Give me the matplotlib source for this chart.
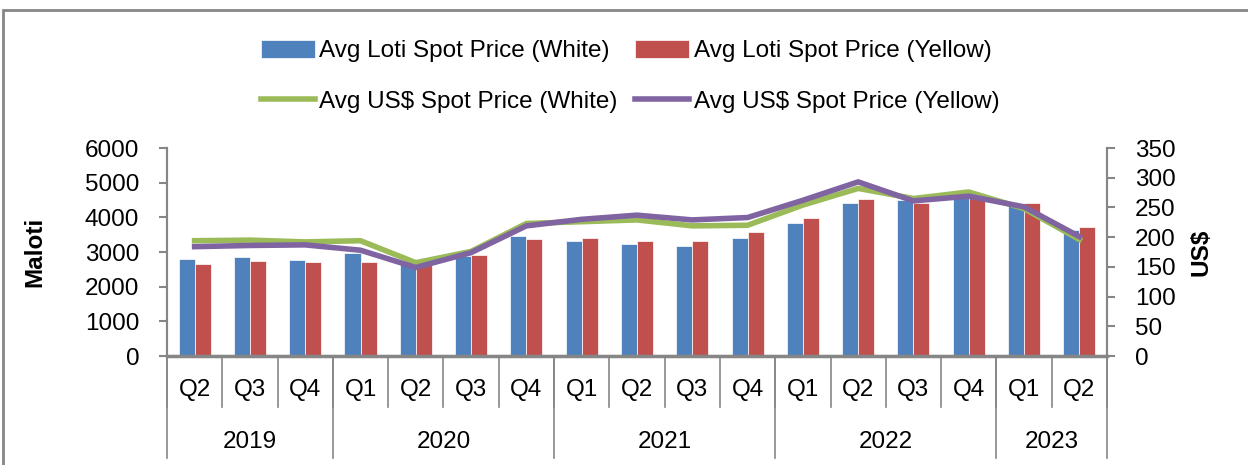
import matplotlib.pyplot as plt
from matplotlib.patches import Rectangle
import numpy as np

plt.rcParams['font.family'] = ['Liberation Sans', 'DejaVu Sans']

BLUE = '#4F81BD'
RED = '#C0504D'
GREEN = '#9BBB59'
PURPLE = '#8064A2'
AXIS_GREY = '#868686'
FS = 17.5

quarters = ['Q2', 'Q3', 'Q4',
            'Q1', 'Q2', 'Q3', 'Q4',
            'Q1', 'Q2', 'Q3', 'Q4',
            'Q1', 'Q2', 'Q3', 'Q4',
            'Q1', 'Q2']
years = ['2019', '2020', '2021', '2022', '2023']
quarters_per_year = [3, 4, 4, 4, 2]

loti_white = [2810, 2850, 2770, 2960, 2750, 2880, 3470,
              3330, 3220, 3170, 3390, 3850, 4400, 4500, 4550, 4360, 3630]
loti_yellow = [2660, 2730, 2700, 2700, 2650, 2920, 3370,
               3390, 3330, 3330, 3590, 3990, 4540, 4400, 4550, 4400, 3730]
usd_white = [194, 195, 192, 194, 157, 176, 223,
             226, 229, 219, 220, 254, 282, 265, 276, 248, 196]
usd_yellow = [184, 186, 187, 178, 149, 174, 219,
              230, 237, 229, 233, 262, 293, 261, 269, 251, 201]

fig = plt.figure(figsize=(12.48, 4.65), dpi=100)
ax = fig.add_axes([0.1338, 0.2344, 0.887 - 0.1338, 0.6817 - 0.2344])
ax2 = ax.twinx()

x = np.arange(len(quarters))
w = 0.29

b1 = ax.bar(x - w / 2, loti_white, w, color=BLUE, edgecolor='white', linewidth=0.5,
            label='Avg Loti Spot Price (White)')
b2 = ax.bar(x + w / 2, loti_yellow, w, color=RED, edgecolor='white', linewidth=0.5,
            label='Avg Loti Spot Price (Yellow)')
l1, = ax2.plot(x, usd_white, color=GREEN, linewidth=4, solid_joinstyle='round',
               label='Avg US$ Spot Price (White)')
l2, = ax2.plot(x, usd_yellow, color=PURPLE, linewidth=4, solid_joinstyle='round',
               label='Avg US$ Spot Price (Yellow)')

ax.set_xlim(-0.5, len(quarters) - 0.5)
ax.set_ylim(0, 6000)
ax2.set_ylim(0, 350)
ax.set_yticks(range(0, 6001, 1000))
ax2.set_yticks(range(0, 351, 50))

for a in (ax, ax2):
    a.spines['top'].set_visible(False)
    for s in ('left', 'right', 'bottom'):
        a.spines[s].set_color(AXIS_GREY)
        a.spines[s].set_linewidth(1.5)
    a.tick_params(axis='y', colors=AXIS_GREY, labelcolor='black', labelsize=FS,
                  length=6, width=1.5, direction='out', pad=14)
ax.spines['bottom'].set_linewidth(2.5)

ax.set_xticks([])
ax.set_ylabel('Maloti', fontsize=FS, fontweight='bold')
ax2.set_ylabel('US$', fontsize=FS, fontweight='bold')
ax.yaxis.set_label_coords(-0.1288, 0.5)
ax2.yaxis.set_label_coords(1.088, 0.5)

# two-level category axis
trans = ax.get_xaxis_transform()
for i, q in enumerate(quarters):
    ax.text(i, -0.163, q, transform=trans, ha='center', va='center', fontsize=FS)
for i in range(len(quarters) + 1):
    ax.plot([i - 0.5, i - 0.5], [0, -0.245], transform=trans, color=AXIS_GREY,
            linewidth=1.2, clip_on=False)
edges = np.concatenate([[0], np.cumsum(quarters_per_year)]) - 0.5
for e in edges:
    ax.plot([e, e], [0, -0.49], transform=trans, color=AXIS_GREY,
            linewidth=1.2, clip_on=False)
for yr, lo, hi in zip(years, edges[:-1], edges[1:]):
    ax.text((lo + hi) / 2, -0.413, yr, transform=trans, ha='center', va='center',
            fontsize=FS)

fig.legend(handles=[b1, l1, b2, l2], ncol=2, loc='center',
           bbox_to_anchor=(0.505, 0.8357), frameon=False, fontsize=FS,
           handlelength=2.2, handleheight=0.8, handletextpad=0.2,
           columnspacing=0.72, labelspacing=1.16)

# chart frame
fig.patches.append(Rectangle((3 / 1248, -0.1), 1.2, 1 - 10 / 465 + 0.1,
                             transform=fig.transFigure, fill=False,
                             edgecolor=AXIS_GREY, linewidth=2))

fig.savefig('out.png', dpi=100)
